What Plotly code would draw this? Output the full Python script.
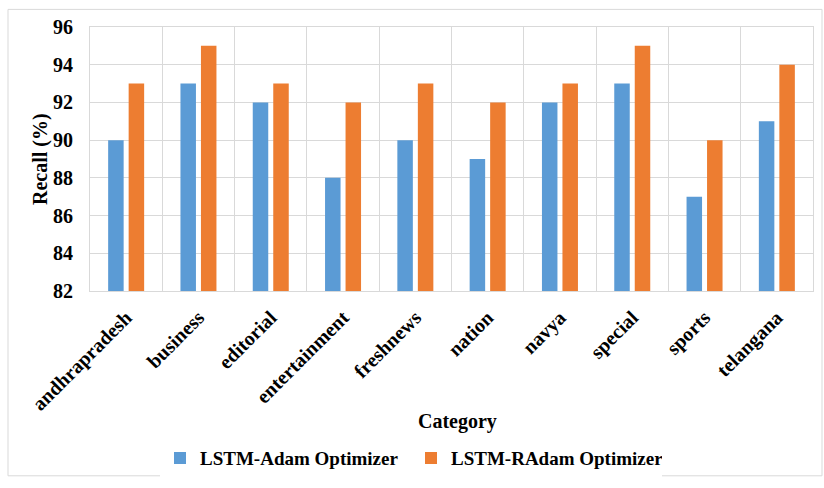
import plotly.graph_objects as go

categories = ["andhrapradesh", "business", "editorial", "entertainment", "freshnews",
              "nation", "navya", "special", "sports", "telangana"]
adam_recall = [90, 93, 92, 88, 90, 89, 92, 93, 87, 91]
radam_recall = [93, 95, 93, 92, 93, 92, 93, 95, 90, 94]
y_ticks = [82, 84, 86, 88, 90, 92, 94, 96]

FONT = "Liberation Serif"
W, H = 824, 488
L, R, T, B = 90, 11, 27, 191
plot_w = W - L - R
plot_h = H - T - B


def px_x(px):
    return (px - L) / plot_w


def px_y(py):
    return (H - B - py) / plot_h


fig = go.Figure()
fig.add_trace(go.Bar(x=categories, y=adam_recall, name="<b>LSTM-Adam Optimizer</b>",
                     marker=dict(color="#5B9BD5", line=dict(width=0))))
fig.add_trace(go.Bar(x=categories, y=radam_recall, name="<b>LSTM-RAdam Optimizer</b>",
                     marker=dict(color="#ED7D31", line=dict(width=0))))

fig.update_layout(
    width=W, height=H,
    margin=dict(l=L, r=R, t=T, b=B),
    paper_bgcolor="white", plot_bgcolor="white",
    barmode="group", bargap=0.433, bargroupgap=0.244,
    font=dict(family=FONT, color="black"),
    showlegend=True,
    legend=dict(orientation="h", x=px_x(160), xanchor="left",
                y=px_y(468), yanchor="middle",
                font=dict(family=FONT, size=19, color="black"),
                itemwidth=30, traceorder="normal",
                entrywidth=206, entrywidthmode="pixels"),
    xaxis=dict(type="category", tickson="boundaries", showgrid=True,
               gridcolor="#D9D9D9", gridwidth=1, tickangle=-45,
               tickfont=dict(family=FONT, size=20, color="black"),
               ticks="", ticklabelstandoff=6,
               showline=True, linecolor="#D9D9D9", mirror=True,
               range=[-0.5, 9.5],
               tickvals=categories, ticktext=[f"<b>{c}</b>" for c in categories]),
    yaxis=dict(range=[82, 96], tickvals=y_ticks,
               ticktext=[f"<b>{v}</b>" for v in y_ticks], showgrid=True,
               gridcolor="#D9D9D9", gridwidth=1, zeroline=False,
               tickfont=dict(family=FONT, size=20, color="black"),
               ticks="", ticklabelstandoff=12,
               showline=True, linecolor="#D9D9D9", mirror=True),
)

fig.add_annotation(text="<b>Category</b>", xref="paper", yref="paper",
                   x=px_x(457), y=px_y(430), showarrow=False,
                   xanchor="center", yanchor="middle",
                   font=dict(family=FONT, size=20, color="black"))
fig.add_annotation(text="<b>Recall (%)</b>", xref="paper", yref="paper",
                   x=px_x(40), y=px_y(162),
                   showarrow=False, textangle=-90, xanchor="center", yanchor="middle",
                   font=dict(family=FONT, size=20, color="black"))

# chart area frame
fig.add_shape(type="rect", xref="paper", yref="paper",
              x0=px_x(8), x1=px_x(822), y0=px_y(486), y1=px_y(9),
              line=dict(color="#D9D9D9", width=1), fillcolor="rgba(0,0,0,0)", layer="below")

fig.write_html("out.html")
